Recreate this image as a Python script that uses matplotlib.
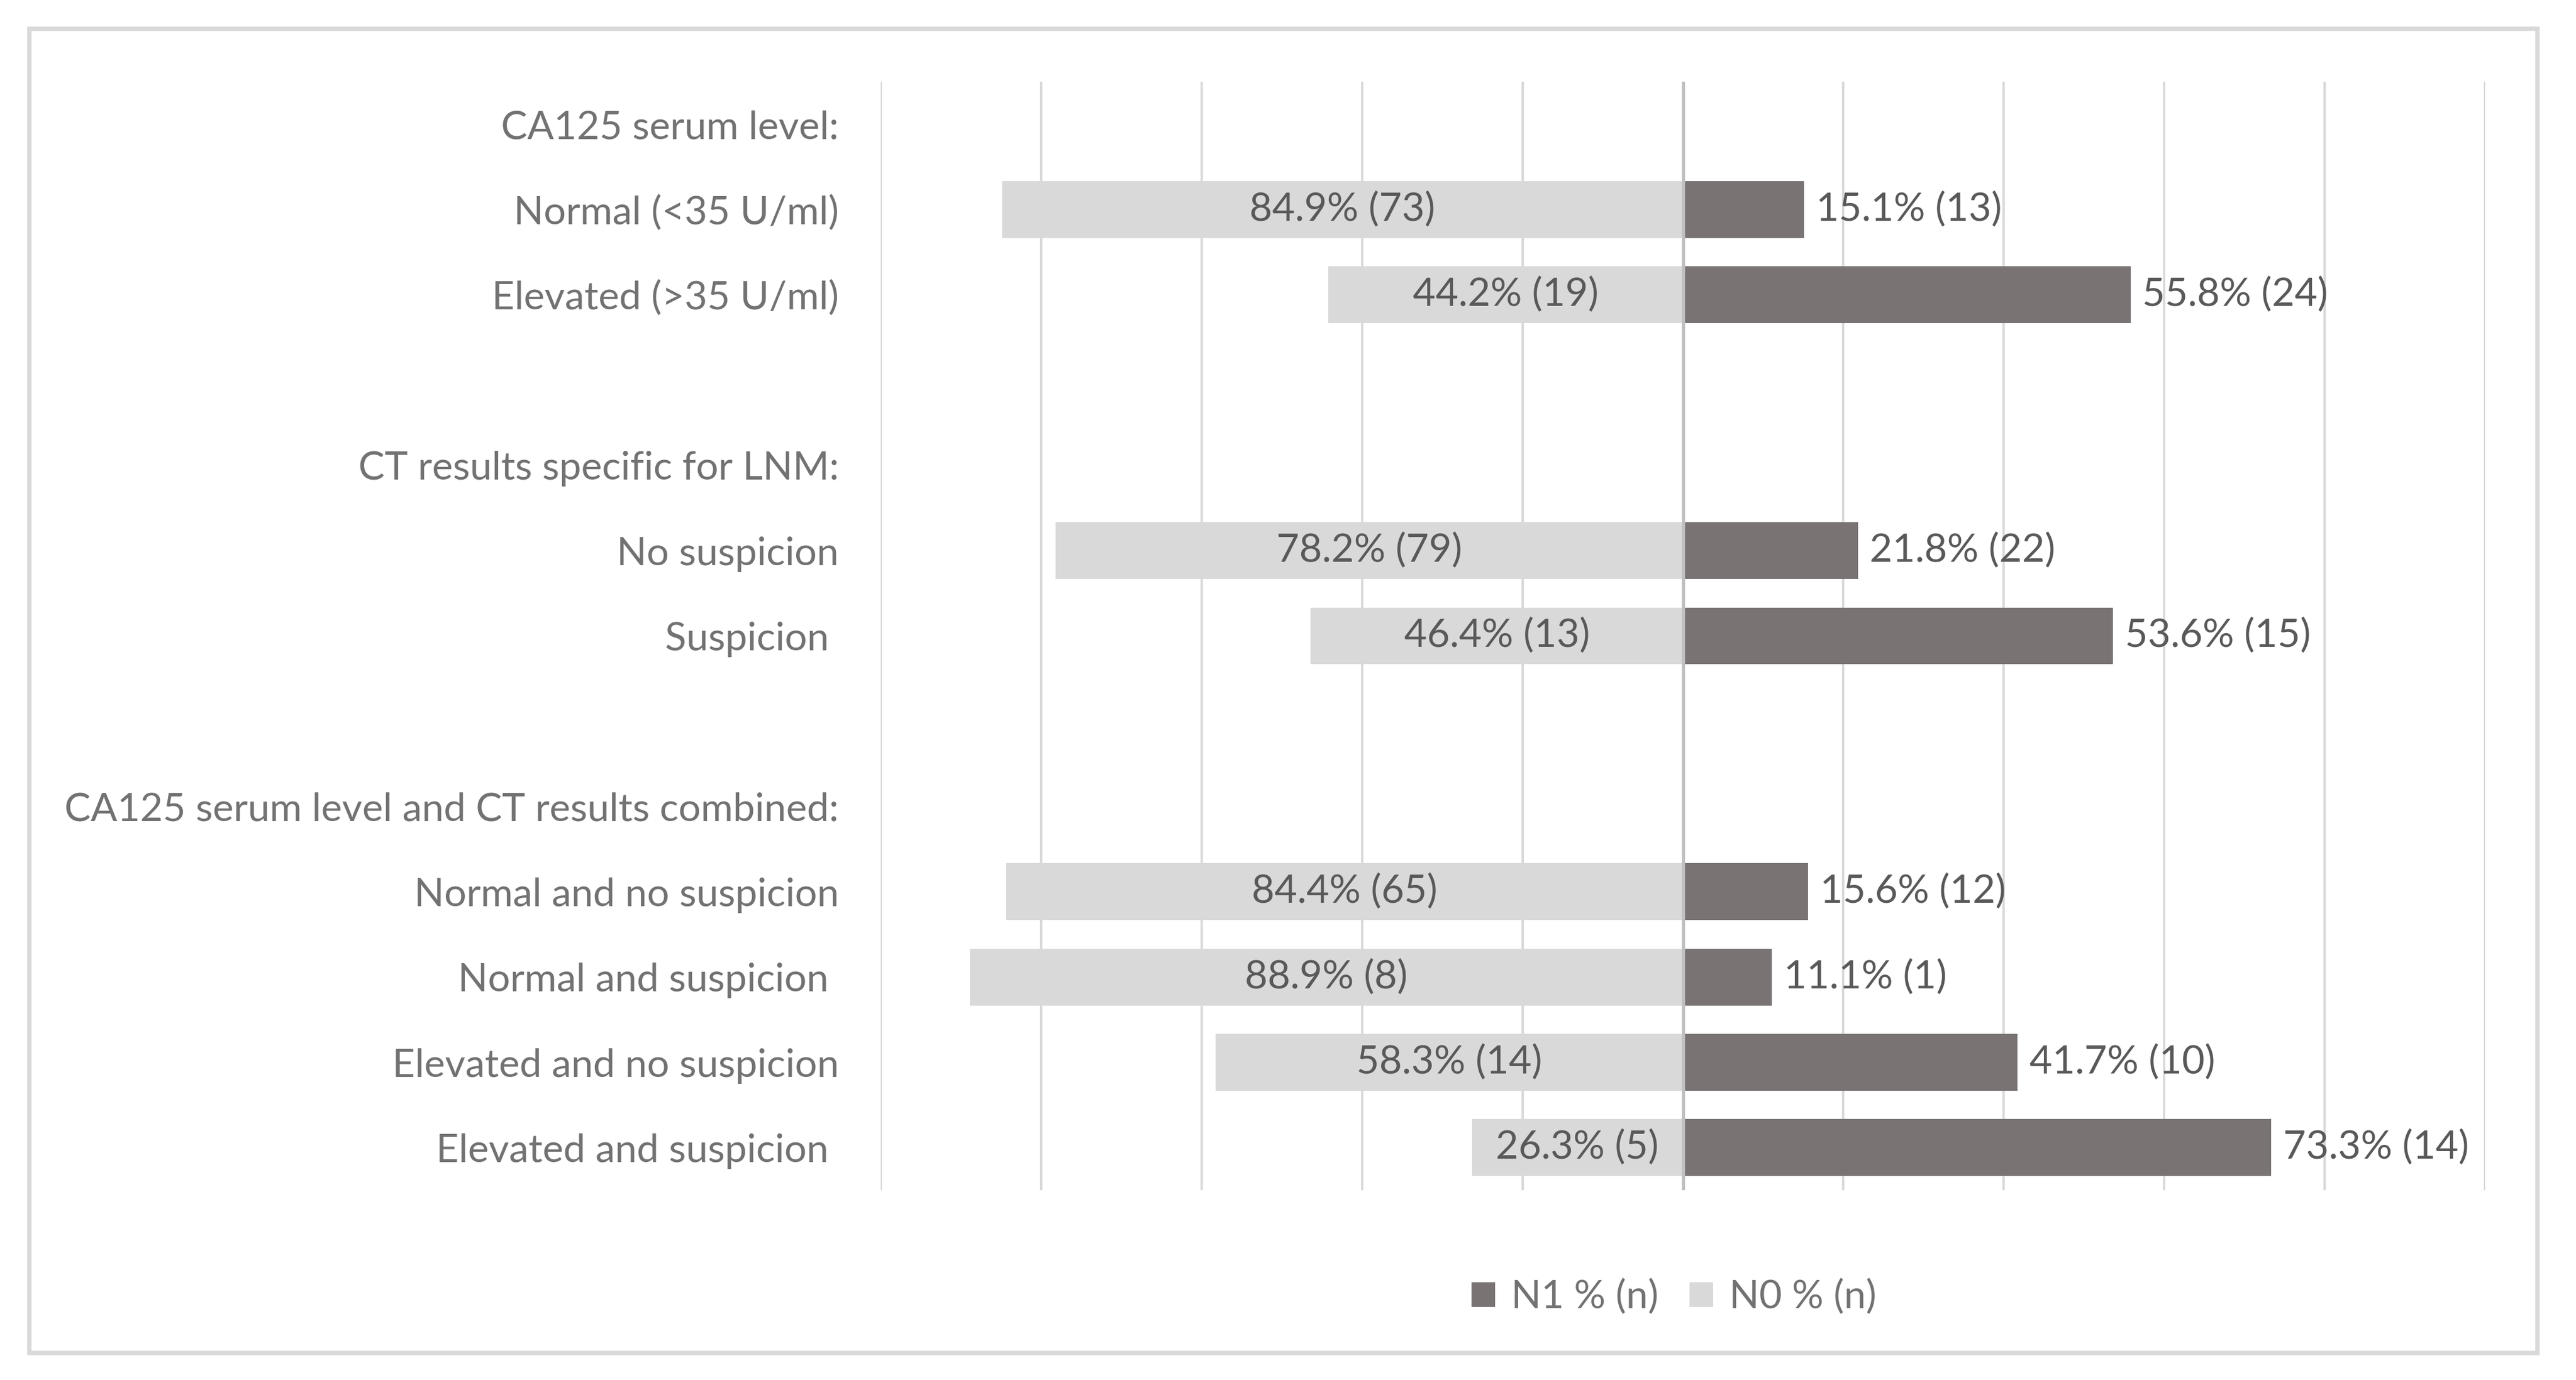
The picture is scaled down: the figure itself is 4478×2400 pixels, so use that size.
import numpy as np
import matplotlib
matplotlib.use("Agg")
import matplotlib.pyplot as plt
from matplotlib.patches import Rectangle, Patch

plt.rcParams['font.family'] = ['Lato', 'DejaVu Sans']

categories = ["CA125 serum level:", "Normal (<35 U/ml)", "Elevated (>35 U/ml)", "",
              "CT results specific for LNM:", "No suspicion", "Suspicion ", "",
              "CA125 serum level and CT results combined:", "Normal and no suspicion",
              "Normal and suspicion ", "Elevated and no suspicion", "Elevated and suspicion "]
n0_pct = [np.nan, 84.9, 44.2, np.nan, np.nan, 78.2, 46.4, np.nan, np.nan, 84.4, 88.9, 58.3, 26.3]
n0_n = [None, 73, 19, None, None, 79, 13, None, None, 65, 8, 14, 5]
n1_pct = [np.nan, 15.1, 55.8, np.nan, np.nan, 21.8, 53.6, np.nan, np.nan, 15.6, 11.1, 41.7, 73.3]
n1_n = [None, 13, 24, None, None, 22, 15, None, None, 12, 1, 10, 14]
series_names = ["N1 % (n)", "N0 % (n)"]

C_N1 = "#797373"
C_N0 = "#D9D9D9"
C_TXT = "#595959"
C_LBL = "#727272"

W, H, DPI = 4478, 2400, 300
fig = plt.figure(figsize=(W / DPI, H / DPI), dpi=DPI)

# outer border
fig.patches.append(Rectangle((51 / W, 1 - 2353 / H), (4411 - 51) / W, (2353 - 50) / H,
                             transform=fig.transFigure, fill=False, edgecolor="#D9D9D9",
                             linewidth=1.8, zorder=0))

ax = fig.add_axes([1531 / W, 1 - 2070 / H, (4320 - 1531) / W, (2070 - 142) / H])
y = np.arange(len(categories))
fs = 16.4

ax.barh(y, -np.array(n0_pct), height=0.667, color=C_N0, zorder=2)
ax.barh(y, np.array(n1_pct), height=0.667, color=C_N1, zorder=2)

for i in range(len(categories)):
    if not np.isnan(n0_pct[i]):
        ax.text(-n0_pct[i] / 2, i, f"{n0_pct[i]:.1f}% ({n0_n[i]})", ha="center", va="center",
                fontsize=fs, color=C_TXT, zorder=4)
    if not np.isnan(n1_pct[i]):
        ax.annotate(f"{n1_pct[i]:.1f}% ({n1_n[i]})", xy=(n1_pct[i], i), xytext=(5, 0),
                    textcoords="offset points", ha="left", va="center",
                    fontsize=fs, color=C_TXT, zorder=4)

ax.set_xlim(-100, 100)
ax.set_ylim(len(categories) - 0.5, -0.5)
ax.set_xticks(np.arange(-100, 101, 20))
ax.set_xticklabels([])
ax.grid(axis="x", color="#D9D9D9", linewidth=1.0, zorder=0)
ax.set_axisbelow(True)
ax.axvline(0, color="#BFBFBF", linewidth=1.3, zorder=3)
ax.set_yticks(y)
ax.set_yticklabels(categories, fontsize=fs, color=C_LBL)
ax.tick_params(axis="both", length=0)
ax.tick_params(axis="y", pad=17.5)
for s in ax.spines.values():
    s.set_visible(False)

handles = [Patch(facecolor=C_N1, edgecolor="none"), Patch(facecolor=C_N0, edgecolor="none")]
leg = fig.legend(handles, series_names, loc="center", bbox_to_anchor=(2910 / W, 1 - 2256 / H),
                 ncol=2, frameon=False, fontsize=fs, handlelength=0.6, handleheight=0.6,
                 handletextpad=0.4, columnspacing=0.8, labelcolor=C_LBL)

fig.savefig("out.png", dpi=DPI)
